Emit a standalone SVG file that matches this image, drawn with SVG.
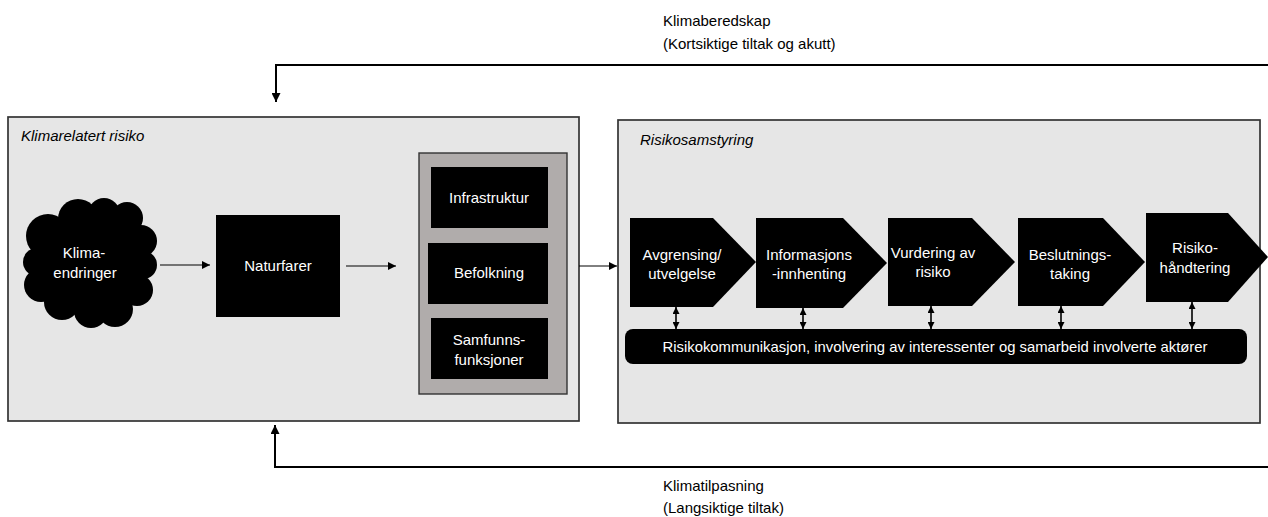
<svg xmlns="http://www.w3.org/2000/svg" width="1268" height="517" viewBox="0 0 1268 517">
  <style>
    text { font-family: "Liberation Sans", Arial, sans-serif; font-size: 15px; }
    .lbl { fill: #000; }
    .wt { fill: #fff; text-anchor: middle; }
    .title { font-style: italic; fill: #000; }
    .panel { fill: #e6e6e6; stroke: #333; stroke-width: 1.7; }
    .inner { fill: #b0acab; stroke: #333; stroke-width: 1.4; }
    .blk { fill: #000; }
    .thin { stroke: #000; stroke-width: 1; fill: none; }
    .thick { stroke: #000; stroke-width: 2; fill: none; }
    .dbl { stroke: #000; stroke-width: 1.6; fill: none; }
  </style>
  <defs>
    <marker id="ah" viewBox="0 0 10 10" refX="10" refY="5" markerWidth="9" markerHeight="8" markerUnits="userSpaceOnUse" orient="auto">
      <path d="M0,0 L10,5 L0,10 Z" fill="#000"/>
    </marker>
    <marker id="ahBig" viewBox="0 0 10 10" refX="10" refY="5" markerWidth="11" markerHeight="9" markerUnits="userSpaceOnUse" orient="auto">
      <path d="M0,0 L10,5 L0,10 Z" fill="#000"/>
    </marker>
    <marker id="ahS" viewBox="0 0 10 10" refX="10" refY="5" markerWidth="7" markerHeight="7" markerUnits="userSpaceOnUse" orient="auto-start-reverse">
      <path d="M0,0 L10,5 L0,10 Z" fill="#000"/>
    </marker>
  </defs>

  <!-- panels -->
  <g id="klimarelatert-risiko">
    <rect class="panel" x="8" y="117" width="571" height="304"/>
    <text class="title" x="21" y="141">Klimarelatert risiko</text>
  </g>
  <g id="risikosamstyring">
    <rect class="panel" x="618" y="120" width="642" height="303"/>
    <text class="title" x="640" y="145">Risikosamstyring</text>
  </g>

  <!-- climate change cloud -->
  <g id="klimaendringer">
    <g class="blk">
      <ellipse cx="90" cy="264" rx="52" ry="46"/>
      <circle cx="48" cy="236" r="22"/>
      <circle cx="78" cy="219" r="20"/>
      <circle cx="104" cy="214" r="16"/>
      <circle cx="127" cy="218" r="16"/>
      <circle cx="141" cy="241" r="16"/>
      <circle cx="143" cy="265" r="14"/>
      <circle cx="137" cy="290" r="16"/>
      <circle cx="115" cy="309" r="18"/>
      <circle cx="91" cy="311" r="17"/>
      <circle cx="62" cy="302" r="18"/>
      <circle cx="41" cy="285" r="17"/>
      <circle cx="37" cy="262" r="14"/>
    </g>
    <text class="wt" x="84" y="258">Klima-</text>
    <text class="wt" x="85" y="278">endringer</text>
  </g>

  <g id="naturfarer">
    <rect class="blk" x="216" y="215" width="124" height="102"/>
    <text class="wt" x="278" y="271">Naturfarer</text>
  </g>

  <g id="eksponering">
    <rect class="inner" x="419" y="153" width="148" height="241"/>
    <g id="infrastruktur">
      <rect class="blk" x="431" y="167" width="117" height="61"/>
      <text class="wt" x="489" y="203">Infrastruktur</text>
    </g>
    <g id="befolkning">
      <rect class="blk" x="428" y="243" width="120" height="61"/>
      <text class="wt" x="489" y="278">Befolkning</text>
    </g>
    <g id="samfunnsfunksjoner">
      <rect class="blk" x="431" y="318" width="117" height="61"/>
      <text class="wt" x="489" y="345">Samfunns-</text>
      <text class="wt" x="489" y="365">funksjoner</text>
    </g>
  </g>

  <!-- process steps -->
  <g id="avgrensing">
    <path class="blk" d="M630,218 H713 L756,262 L713,307 H630 Z"/>
    <text class="wt" x="682" y="260">Avgrensing/</text>
    <text class="wt" x="682" y="279">utvelgelse</text>
  </g>
  <g id="informasjonsinnhenting">
    <path class="blk" d="M756,218 H843 L887,263 L843,308 H756 Z"/>
    <text class="wt" x="809" y="260">Informasjons</text>
    <text class="wt" x="809" y="279">-innhenting</text>
  </g>
  <g id="vurdering">
    <path class="blk" d="M888,218 H972 L1015,262 L972,306 H888 Z"/>
    <text class="wt" x="933" y="258">Vurdering av</text>
    <text class="wt" x="933" y="277">risiko</text>
  </g>
  <g id="beslutningstaking">
    <path class="blk" d="M1018,218 H1103 L1145,262 L1103,306 H1018 Z"/>
    <text class="wt" x="1070" y="260">Beslutnings-</text>
    <text class="wt" x="1070" y="279">taking</text>
  </g>
  <g id="risikohandtering">
    <path class="blk" d="M1146,213 H1228 L1268,257 L1228,302 H1146 Z"/>
    <text class="wt" x="1195" y="253">Risiko-</text>
    <text class="wt" x="1195" y="273">håndtering</text>
  </g>

  <g id="risikokommunikasjon">
    <rect class="blk" x="625" y="329" width="622" height="35" rx="8" ry="8"/>
    <text class="wt" x="935" y="352" textLength="545" lengthAdjust="spacingAndGlyphs">Risikokommunikasjon, involvering av interessenter og samarbeid involverte aktører</text>
  </g>

  <!-- feedback labels -->
  <g id="klimaberedskap">
    <text class="lbl" x="663" y="26">Klimaberedskap</text>
    <text class="lbl" x="663" y="49">(Kortsiktige tiltak og akutt)</text>
  </g>
  <g id="klimatilpasning">
    <text class="lbl" x="663" y="491">Klimatilpasning</text>
    <text class="lbl" x="663" y="513">(Langsiktige tiltak)</text>
  </g>

  <!-- connectors -->
  <g id="connectors">
    <line class="thin" x1="160" y1="265" x2="210" y2="265" marker-end="url(#ah)"/>
    <line class="thin" x1="346" y1="266" x2="396" y2="266" marker-end="url(#ah)"/>
    <line class="thin" x1="579" y1="266" x2="617" y2="266" marker-end="url(#ah)"/>

    <polyline class="thick" points="1268,65 276,65 276,102" marker-end="url(#ahBig)"/>
    <polyline class="thick" points="1268,467 275,467 275,425" marker-end="url(#ahBig)"/>

    <line class="dbl" x1="676" y1="307" x2="676" y2="329" marker-start="url(#ahS)" marker-end="url(#ahS)"/>
    <line class="dbl" x1="803" y1="308" x2="803" y2="329" marker-start="url(#ahS)" marker-end="url(#ahS)"/>
    <line class="dbl" x1="931" y1="306" x2="931" y2="329" marker-start="url(#ahS)" marker-end="url(#ahS)"/>
    <line class="dbl" x1="1061" y1="306" x2="1061" y2="329" marker-start="url(#ahS)" marker-end="url(#ahS)"/>
    <line class="dbl" x1="1192" y1="302" x2="1192" y2="329" marker-start="url(#ahS)" marker-end="url(#ahS)"/>
  </g>
</svg>
